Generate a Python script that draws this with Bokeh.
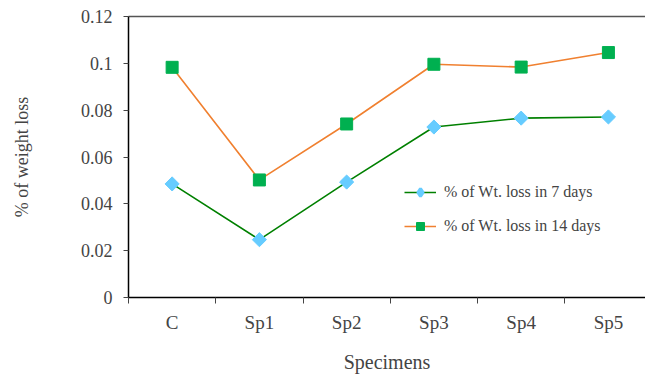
import numpy as np
from bokeh.plotting import figure
from bokeh.models import Range1d, FixedTicker, CustomJSTickFormatter, LinearAxis, Legend, LegendItem
from bokeh.embed import file_html
from bokeh.resources import INLINE

categories = ["C", "Sp1", "Sp2", "Sp3", "Sp4", "Sp5"]
loss_7_days = [0.0485, 0.0247, 0.0493, 0.0728, 0.0766, 0.0771]
loss_14_days = [0.0983, 0.0502, 0.0741, 0.0996, 0.0984, 0.1046]
y_ticks = [0, 0.02, 0.04, 0.06, 0.08, 0.1, 0.12]

FONT = "Liberation Serif"
x = [i + 0.5 for i in range(len(categories))]

p = figure(width=645, height=375, output_backend="svg", toolbar_location=None,
           x_range=Range1d(0, 5.925), y_range=Range1d(0, 0.12),
           min_border_left=128, min_border_right=0, min_border_top=16, min_border_bottom=77)
p.outline_line_color = None
p.grid.visible = False
p.background_fill_color = "white"
p.border_fill_color = "white"

l1 = p.line(x, loss_7_days, line_color="#008000", line_width=1.6)
m1 = p.scatter(x, loss_7_days, marker="square", angle=np.pi / 4, size=10,
               fill_color="#66CCFF", line_color="#66CCFF")
l2 = p.line(x, loss_14_days, line_color="#F08030", line_width=1.6)
m2 = p.scatter(x, loss_14_days, marker="square", size=12,
               fill_color="#00B050", line_color="#00B050")
# legend-only marker (NaN point, not drawn) so the legend shows a diamond
m1_leg = p.scatter([np.nan], [np.nan], marker="diamond", size=15, line_width=3,
                   fill_color="#66CCFF", line_color="#66CCFF")

# x axis: tick marks at category boundaries, labels at centres
xa = p.xaxis[0]
xa.ticker = FixedTicker(ticks=x, minor_ticks=list(range(len(categories) + 1)))
xa.major_label_overrides = {v: c for v, c in zip(x, categories)}
xa.major_tick_in = 0
xa.major_tick_out = 0
xa.minor_tick_in = 0
xa.minor_tick_out = 6
xa.minor_tick_line_color = "#444444"
xa.axis_line_color = "black"
xa.axis_line_width = 1.5
xa.major_label_text_font = FONT
xa.major_label_text_font_size = "19px"
xa.major_label_standoff = 8
xa.axis_label = "Specimens"
xa.axis_label_text_font = FONT
xa.axis_label_text_font_size = "20px"
xa.axis_label_text_font_style = "normal"
xa.axis_label_standoff = 15

ya = p.yaxis[0]
ya.ticker = FixedTicker(ticks=y_ticks, minor_ticks=[])
ya.formatter = CustomJSTickFormatter(code="return parseFloat(tick.toFixed(2)).toString();")
ya.major_tick_in = 0
ya.major_tick_out = 5
ya.major_tick_line_color = "#444444"
ya.axis_line_color = "black"
ya.axis_line_width = 1.5
ya.major_label_text_font = FONT
ya.major_label_text_font_size = "18px"
ya.major_label_standoff = 11
ya.axis_label = "% of weight loss"
ya.axis_label_text_font = FONT
ya.axis_label_text_font_size = "18px"
ya.axis_label_text_font_style = "normal"
ya.axis_label_standoff = 46

top = LinearAxis(ticker=FixedTicker(ticks=[], minor_ticks=[]),
                 major_tick_in=0, major_tick_out=0, minor_tick_in=0, minor_tick_out=0,
                 axis_line_color="#555555", axis_line_width=1.5)
p.add_layout(top, "above")

legend = Legend(items=[LegendItem(label="% of Wt. loss in 7 days", renderers=[l1, m1_leg]),
                       LegendItem(label="% of Wt. loss in 14 days", renderers=[l2, m2])],
                location=(276, 61), background_fill_alpha=0, border_line_color=None,
                label_text_font=FONT, label_text_font_size="16px",
                glyph_width=32, label_standoff=8, spacing=14, padding=4, margin=0)
p.add_layout(legend, "center")

open("out.html", "w").write(file_html(p, INLINE))
